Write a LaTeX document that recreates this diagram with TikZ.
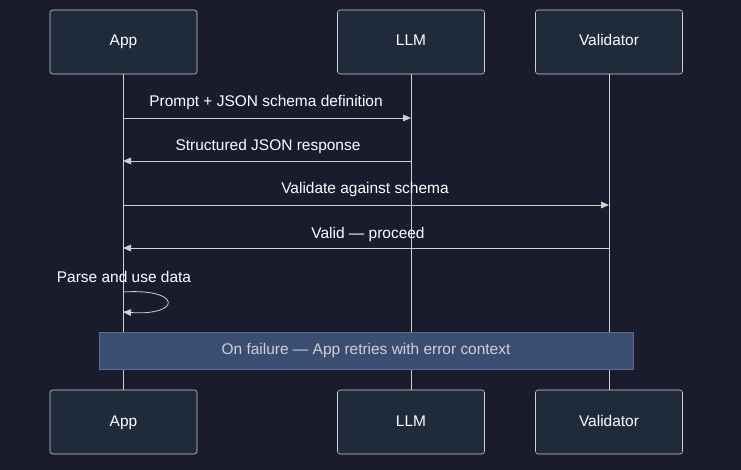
\documentclass[tikz,border=0pt]{standalone}
\usepackage{fontspec}
\setmainfont{Liberation Sans}
\usetikzlibrary{arrows.meta}
\definecolor{bg}{HTML}{1B1B2E}
\definecolor{actorfill}{HTML}{1F2A3A}
\definecolor{linecol}{HTML}{D0D0D0}
\definecolor{notefill}{HTML}{3A4E72}
\definecolor{noteline}{HTML}{5A6E92}
\newcommand{\dfont}{\fontsize{11.6}{14}\selectfont}
\tikzset{
  actor/.style={draw=linecol, fill=actorfill, rounded corners=2pt, minimum width=110.25pt, minimum height=48pt, text=white, font=\dfont, text height=8.5pt, text depth=2.5pt},
  life/.style={draw=linecol, line width=0.6pt},
  msg/.style={draw=linecol, line width=0.6pt, -{Triangle[length=6pt,width=5pt]}},
  lbl/.style={text=white, font=\dfont, inner sep=1pt},
}
\begin{document}
\begin{tikzpicture}[x=0.75pt,y=-0.75pt]
\fill[bg] (0,0) rectangle (741,470);
\useasboundingbox (0,0) rectangle (741,470);
% lifelines
\coordinate (a1) at (123,74);  \coordinate (a2) at (123,390);
\coordinate (l1) at (411,74);  \coordinate (l2) at (411,390);
\coordinate (v1) at (609,74);  \coordinate (v2) at (609,390);
\draw[life] (a1) -- (a2);
\draw[life] (l1) -- (l2);
\draw[life] (v1) -- (v2);
% actors
\node[actor] (appT) at (123.5,42) {App};
\node[actor] (llmT) at (411,42) {LLM};
\node[actor] (valT) at (609,42) {Validator};
\node[actor] (appB) at (123.5,422) {App};
\node[actor] (llmB) at (411,422) {LLM};
\node[actor] (valB) at (609,422) {Validator};
% messages
\coordinate (m1a) at (123,118); \coordinate (m1b) at (411,118);
\coordinate (m2a) at (411,161); \coordinate (m2b) at (123,161);
\coordinate (m3a) at (123,205); \coordinate (m3b) at (609,205);
\coordinate (m4a) at (609,248); \coordinate (m4b) at (123,248);
\draw[msg] (m1a) -- (m1b);
\node[lbl] at (266,103) {Prompt + JSON schema definition};
\draw[msg] (m2a) -- (m2b);
\node[lbl] at (268,147) {Structured JSON response};
\draw[msg] (m3a) -- (m3b);
\node[lbl] at (365,190) {Validate against schema};
\draw[msg] (m4a) -- (m4b);
\node[lbl] at (368,234) {Valid — proceed};
% self message
\coordinate (s1) at (123,292); \coordinate (s2) at (123,312);
\draw[msg] (s1) .. controls (182,288) and (182,316) .. (s2);
\node[lbl] at (124,277) {Parse and use data};
% note
\node[draw=noteline, fill=notefill, minimum width=400.5pt, minimum height=27.75pt, text=linecol, font=\dfont] (note) at (366,350.5) {On failure — App retries with error context};
\end{tikzpicture}
\end{document}
